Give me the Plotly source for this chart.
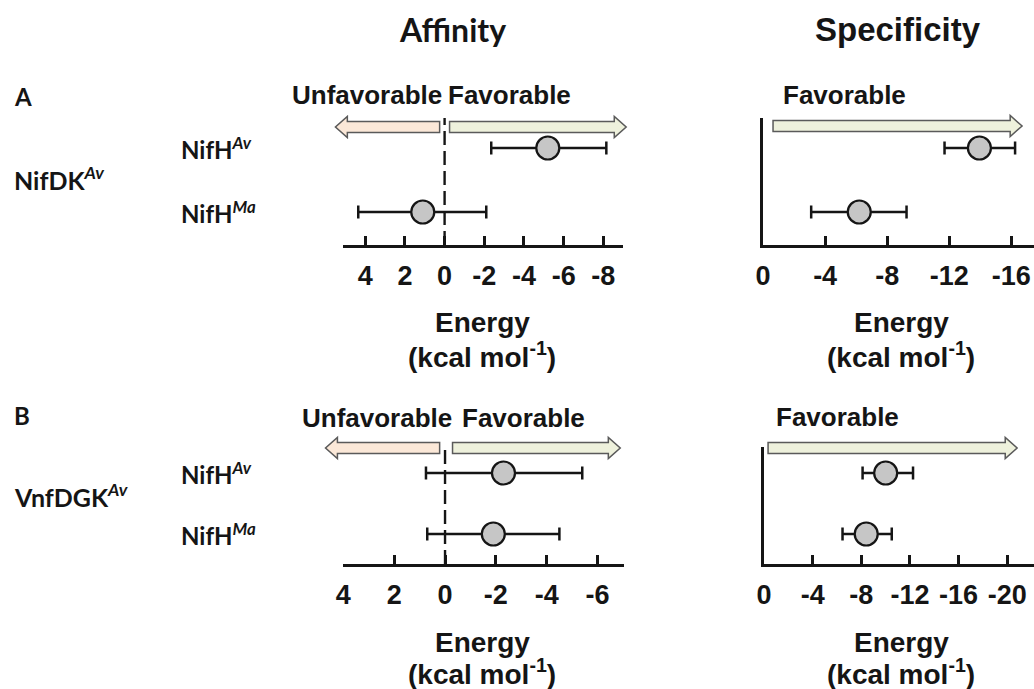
import plotly.graph_objects as go

W, H = 1034, 689

# ---------------- data ----------------
rows = ["NifHAv", "NifHMa"]
row_labels = ["NifH<sup><i>Av</i></sup>", "NifH<sup><i>Ma</i></sup>"]

A_aff_mean = [-5.2, 1.1]
A_aff_min = [-8.15, -2.1]
A_aff_max = [-2.35, 4.35]

A_spec_mean = [-13.95, -6.2]
A_spec_min = [-16.25, -9.25]
A_spec_max = [-11.7, -3.1]

B_aff_mean = [-2.3, -1.9]
B_aff_min = [-5.4, -4.5]
B_aff_max = [0.75, 0.7]

B_spec_mean = [-10.0, -8.4]
B_spec_min = [-12.25, -10.5]
B_spec_max = [-8.1, -6.45]

A_aff_ticks = [4, 2, 0, -2, -4, -6, -8]
A_spec_ticks = [0, -4, -8, -12, -16]
B_aff_ticks = [4, 2, 0, -2, -4, -6]
B_spec_ticks = [0, -4, -8, -12, -16, -20]


def px(x):
    return x / W


def py(y):
    return 1 - y / H


ARIAL = "Liberation Sans, Arial"
CALI = "Lato, Open Sans, sans-serif"
INK = "#151515"

fig = go.Figure()

panels = [
    ("x", "y", A_aff_mean, A_aff_min, A_aff_max),
    ("x2", "y2", A_spec_mean, A_spec_min, A_spec_max),
    ("x3", "y3", B_aff_mean, B_aff_min, B_aff_max),
    ("x4", "y4", B_spec_mean, B_spec_min, B_spec_max),
]
for xa, ya, mean, lo, hi in panels:
    fig.add_trace(go.Scatter(
        x=mean, y=rows, xaxis=xa, yaxis=ya, mode="markers",
        marker=dict(size=23, color="#c6c6c6", line=dict(width=2.2, color=INK)),
        error_x=dict(type="data", symmetric=False,
                     array=[h - m for h, m in zip(hi, mean)],
                     arrayminus=[m - l for m, l in zip(mean, lo)],
                     color=INK, thickness=2.5, width=6.5),
        showlegend=False, hoverinfo="skip", cliponaxis=False,
    ))


def xaxis_cfg(dom, rng, ticks, anchor):
    return dict(
        domain=dom, range=rng, anchor=anchor,
        tickmode="array", tickvals=ticks, ticktext=[str(t) for t in ticks],
        ticks="inside", ticklen=9, tickwidth=2.5, tickcolor=INK,
        showline=True, linewidth=2.5, linecolor=INK,
        showgrid=False, zeroline=False, fixedrange=True,
        tickfont=dict(family=ARIAL, size=27, color=INK, weight="bold"),
        ticklabelstandoff=5,
    )


def yaxis_cfg(dom, rng, anchor, line):
    return dict(
        domain=dom, range=rng, anchor=anchor, type="category",
        categoryorder="array", categoryarray=["NifHMa", "NifHAv"],
        showticklabels=False, ticks="", showgrid=False, zeroline=False,
        showline=line, linewidth=2.5, linecolor=INK, fixedrange=True,
    )


top_dom = [py(245), py(118)]
top_rng = [-(245 - 212) / 64, 1 + (148 - 118) / 64]
bot_dom = [py(564), py(447)]
bot_rng = [-(564 - 534) / 61, 1 + (473 - 447) / 61]

fig.update_layout(
    width=W, height=H, margin=dict(l=0, r=0, t=0, b=0),
    paper_bgcolor="white", plot_bgcolor="rgba(0,0,0,0)",
    xaxis=xaxis_cfg([px(338), px(620)], [5.1, -9.0], A_aff_ticks, "y"),
    yaxis=yaxis_cfg(top_dom, top_rng, "x", False),
    xaxis2=xaxis_cfg([px(761), 1.0], [0, -17.47], A_spec_ticks, "y2"),
    yaxis2=yaxis_cfg(top_dom, top_rng, "x2", True),
    xaxis3=xaxis_cfg([px(338), px(621)], [4.0, -7.05], B_aff_ticks, "y3"),
    yaxis3=yaxis_cfg(bot_dom, bot_rng, "x3", False),
    xaxis4=xaxis_cfg([px(762), 1.0], [0, -22.2], B_spec_ticks, "y4"),
    yaxis4=yaxis_cfg(bot_dom, bot_rng, "x4", True),
)

shapes = []
# dashed zero lines in affinity panels
for xa, ya in (("x", "y"), ("x3", "y3")):
    shapes.append(dict(type="line", xref=xa, yref=ya + " domain", x0=0, x1=0,
                       y0=0, y1=1, line=dict(color=INK, width=2.4, dash="14px,6px"),
                       layer="below"))


def arrow(tail, tip, yc, fill):
    d = 1 if tip > tail else -1
    bh, hh, hl = 5.5, 10.5, 12
    base = tip - d * hl
    pts = [(tail, yc - bh), (base, yc - bh), (base, yc - hh), (tip, yc),
           (base, yc + hh), (base, yc + bh), (tail, yc + bh)]
    path = "M " + " L ".join(f"{px(x):.5f},{py(y):.5f}" for x, y in pts) + " Z"
    return dict(type="path", xref="paper", yref="paper", path=path,
                fillcolor=fill, line=dict(color="#5a5a5a", width=1.5), layer="above")


PEACH = "#fbe8d8"
GREEN = "#eef1dc"
shapes += [
    arrow(435, 330, 127, PEACH), arrow(445, 623, 127, GREEN),
    arrow(771, 1022, 126, GREEN),
    arrow(435, 320, 448, PEACH), arrow(448, 617, 448, GREEN),
    arrow(766, 1017, 448, GREEN),
]
fig.update_layout(shapes=shapes)

ann = []


def text(s, x, y, size, family=ARIAL, xanchor="center"):
    ann.append(dict(text=s, x=px(x), y=py(y), xref="paper", yref="paper",
                    xanchor=xanchor, yanchor="middle", showarrow=False,
                    font=dict(family=family, size=size, color=INK, weight="bold")))


text("Affinity", 448, 30, 32, CALI)
text("Specificity", 897, 30, 33, ARIAL)

text("Unfavorable", 439, 95, 26, xanchor="right")
text("Favorable", 441, 95, 26, xanchor="left")
text("Favorable", 779, 95, 26, xanchor="left")
text("Unfavorable", 449, 418, 26, xanchor="right")
text("Favorable", 456, 418, 26, xanchor="left")
text("Favorable", 772, 417, 26, xanchor="left")

for cx in (478, 900):
    text("Energy", cx, 322, 28)
    text("(kcal mol<sup>-1</sup>)", cx, 355, 28)
    text("Energy", cx, 642, 28)
    text("(kcal mol<sup>-1</sup>)", cx, 672, 28)

text("A", 4, 97, 24, CALI, "left")
text("B", 4, 415, 24, CALI, "left")
text("NifDK<sup><i>Av</i></sup>", 4, 178, 25, CALI, "left")
text("VnfDGK<sup><i>Av</i></sup>", 4, 495, 25, CALI, "left")

for ya in ("y", "y3"):
    for r, lab in zip(rows, row_labels):
        ann.append(dict(text=lab, x=px(172), y=r, xref="paper", yref=ya,
                        xanchor="left", yanchor="middle", showarrow=False,
                        font=dict(family=CALI, size=24, color=INK, weight="bold")))

fig.update_layout(annotations=ann)
fig.write_html("out.html")
